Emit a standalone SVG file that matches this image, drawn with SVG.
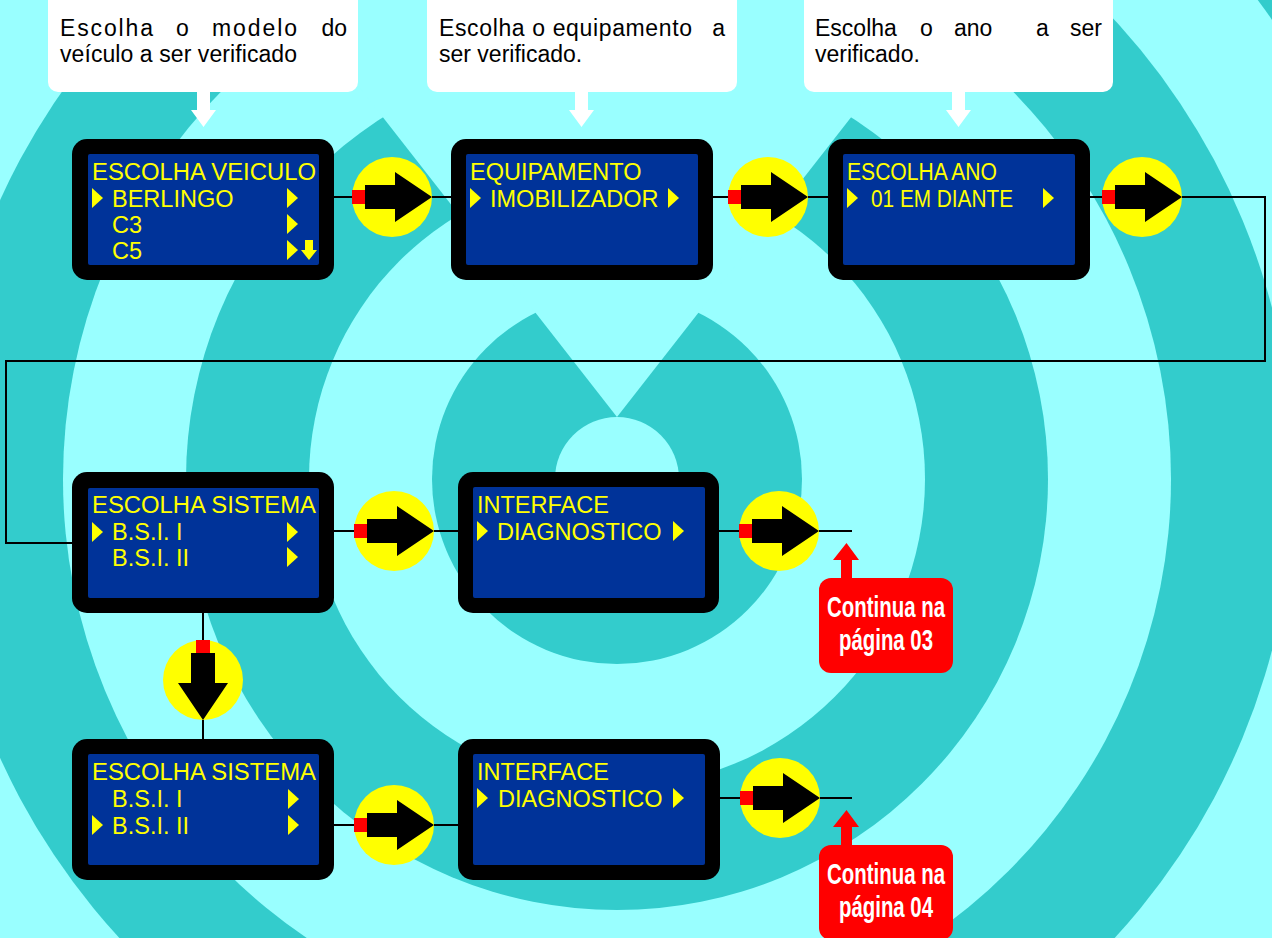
<svg xmlns="http://www.w3.org/2000/svg" xmlns:xlink="http://www.w3.org/1999/xlink" width="1272" height="938" viewBox="0 0 1272 938">
<style>
.bgl{fill:#99FFFF}
.bgd{fill:#33CCCC}
.call{fill:#FFFFFF}
.ctext{font-family:"Liberation Sans",Arial,sans-serif;font-size:23px;fill:#000}
.outer{fill:#000}
.inner{fill:#003399}
.lcd{font-family:"Liberation Sans",Arial,sans-serif;font-size:23.5px;fill:#FFFF00}
.tri{fill:#FFFF00}
.conn{fill:none;stroke:#000;stroke-width:2}
.red{fill:#FF0000}
.rtext{font-family:"Liberation Sans Narrow","Liberation Sans",Arial,sans-serif;font-size:30px;font-weight:bold;fill:#FFFFFF}
</style>
<defs>
<g id="harrow">
<circle r="40" fill="#FFFF00"/>
<rect x="-40" y="-7" width="14" height="14" fill="#FF0000"/>
<polygon points="-27,-12 3,-12 3,-25 40,0 3,25 3,12 -27,12" fill="#000"/>
</g>
<polygon id="tr" points="0,0 11,10 0,20"/>
</defs>

<g id="background">
<rect class="bgl" x="0" y="0" width="1272" height="938"/>
<circle class="bgd" cx="617" cy="479" r="923"/>
<circle class="bgl" cx="617" cy="479" r="800"/>
<circle class="bgd" cx="617" cy="479" r="677"/>
<circle class="bgl" cx="617" cy="479" r="554"/>
<circle class="bgd" cx="617" cy="479" r="431"/>
<circle class="bgl" cx="617" cy="479" r="308"/>
<circle class="bgd" cx="617" cy="479" r="185"/>
<circle class="bgl" cx="617" cy="479" r="62"/>
<polygon class="bgl" points="617,417 207,-108 1027,-108"/>
</g>

<g id="connectors">
<polyline class="conn" points="334,197 352,197"/>
<polyline class="conn" points="432,197 451,197"/>
<polyline class="conn" points="713,197 729,197"/>
<polyline class="conn" points="808,197 828,197"/>
<polyline class="conn" points="1090,197 1102,197"/>
<polyline class="conn" points="1182,197 1265,197 1265,361 6,361 6,543 72,543"/>
<polyline class="conn" points="334,531 354,531"/>
<polyline class="conn" points="434,531 458,531"/>
<polyline class="conn" points="719,531 739,531"/>
<polyline class="conn" points="819,531 852,531"/>
<polyline class="conn" points="203,613 203,739"/>
<polyline class="conn" points="334,825 354,825"/>
<polyline class="conn" points="434,825 458,825"/>
<polyline class="conn" points="720,798 740,798"/>
<polyline class="conn" points="820,798 852,798"/>
<use xlink:href="#harrow" href="#harrow" transform="translate(392,197)"/>
<use xlink:href="#harrow" href="#harrow" transform="translate(768,197)"/>
<use xlink:href="#harrow" href="#harrow" transform="translate(1142,197)"/>
<use xlink:href="#harrow" href="#harrow" transform="translate(394,531)"/>
<use xlink:href="#harrow" href="#harrow" transform="translate(779,531)"/>
<use xlink:href="#harrow" href="#harrow" transform="translate(394,825)"/>
<use xlink:href="#harrow" href="#harrow" transform="translate(780,798)"/>
<use xlink:href="#harrow" href="#harrow" transform="translate(203,680) rotate(90)"/>
</g>

<g id="callout1">
<rect class="call" x="48" y="-20" width="310" height="112" rx="10"/>
<text class="ctext" x="60" y="36" textLength="93" lengthAdjust="spacing">Escolha</text>
<text class="ctext" x="176" y="36">o</text>
<text class="ctext" x="212" y="36" textLength="85" lengthAdjust="spacing">modelo</text>
<text class="ctext" x="347" y="36" text-anchor="end">do</text>
<text class="ctext" x="60" y="62" textLength="237" lengthAdjust="spacing">veículo a ser verificado</text>
<polygon class="call" points="197,92 210,92 210,110 216,110 203.5,127 191,110 197,110"/>
</g>

<g id="callout2">
<rect class="call" x="427" y="-20" width="310" height="112" rx="10"/>
<text class="ctext" x="439" y="36" textLength="253" lengthAdjust="spacing">Escolha o equipamento</text>
<text class="ctext" x="725" y="36" text-anchor="end">a</text>
<text class="ctext" x="439" y="62">ser verificado.</text>
<polygon class="call" points="575,92 588,92 588,110 594,110 581.5,127 569,110 575,110"/>
</g>

<g id="callout3">
<rect class="call" x="804" y="-20" width="309" height="112" rx="10"/>
<text class="ctext" x="815" y="36">Escolha</text>
<text class="ctext" x="920" y="36">o</text>
<text class="ctext" x="954" y="36">ano</text>
<text class="ctext" x="1036" y="36">a</text>
<text class="ctext" x="1102" y="36" text-anchor="end">ser</text>
<text class="ctext" x="815" y="62">verificado.</text>
<polygon class="call" points="952,92 965,92 965,110 971,110 958.5,127 946,110 952,110"/>
</g>

<g id="screen1">
<rect class="outer" x="72" y="139" width="262" height="141" rx="15"/>
<rect class="inner" x="88" y="154" width="231" height="111" rx="2"/>
<text class="lcd" x="92" y="180" textLength="224" lengthAdjust="spacingAndGlyphs">ESCOLHA VEICULO</text>
<use class="tri" xlink:href="#tr" href="#tr" x="92" y="188"/>
<text class="lcd" x="112" y="207">BERLINGO</text>
<use class="tri" xlink:href="#tr" href="#tr" x="287" y="188"/>
<text class="lcd" x="112" y="233">C3</text>
<use class="tri" xlink:href="#tr" href="#tr" x="287" y="214"/>
<text class="lcd" x="112" y="259">C5</text>
<use class="tri" xlink:href="#tr" href="#tr" x="287" y="240"/>
<polygon class="tri" points="305,240 313,240 313,250 317,250 309,260 301,250 305,250"/>
</g>

<g id="screen2">
<rect class="outer" x="451" y="139" width="262" height="141" rx="15"/>
<rect class="inner" x="466" y="154" width="232" height="111" rx="2"/>
<text class="lcd" x="470" y="180">EQUIPAMENTO</text>
<use class="tri" xlink:href="#tr" href="#tr" x="470" y="188"/>
<text class="lcd" x="490" y="207">IMOBILIZADOR</text>
<use class="tri" xlink:href="#tr" href="#tr" x="668" y="188"/>
</g>

<g id="screen3">
<rect class="outer" x="828" y="139" width="262" height="141" rx="15"/>
<rect class="inner" x="843" y="154" width="232" height="111" rx="2"/>
<text class="lcd" x="847" y="180" textLength="150" lengthAdjust="spacingAndGlyphs">ESCOLHA ANO</text>
<use class="tri" xlink:href="#tr" href="#tr" x="847" y="188"/>
<text class="lcd" x="871" y="207" textLength="142" lengthAdjust="spacingAndGlyphs">01 EM DIANTE</text>
<use class="tri" xlink:href="#tr" href="#tr" x="1043" y="188"/>
</g>

<g id="screen4">
<rect class="outer" x="72" y="472" width="262" height="141" rx="15"/>
<rect class="inner" x="88" y="488" width="231" height="110" rx="2"/>
<text class="lcd" x="92" y="513" textLength="224" lengthAdjust="spacingAndGlyphs">ESCOLHA SISTEMA</text>
<use class="tri" xlink:href="#tr" href="#tr" x="92" y="522"/>
<text class="lcd" x="112" y="540">B.S.I. I</text>
<use class="tri" xlink:href="#tr" href="#tr" x="287" y="522"/>
<text class="lcd" x="112" y="566">B.S.I. II</text>
<use class="tri" xlink:href="#tr" href="#tr" x="287" y="547"/>
</g>

<g id="screen5">
<rect class="outer" x="458" y="472" width="261" height="141" rx="15"/>
<rect class="inner" x="473" y="487" width="232" height="111" rx="2"/>
<text class="lcd" x="477" y="513">INTERFACE</text>
<use class="tri" xlink:href="#tr" href="#tr" x="477" y="521"/>
<text class="lcd" x="497" y="540">DIAGNOSTICO</text>
<use class="tri" xlink:href="#tr" href="#tr" x="673" y="521"/>
</g>

<g id="screen6">
<rect class="outer" x="72" y="739" width="262" height="141" rx="15"/>
<rect class="inner" x="88" y="754" width="231" height="111" rx="2"/>
<text class="lcd" x="92" y="780" textLength="224" lengthAdjust="spacingAndGlyphs">ESCOLHA SISTEMA</text>
<text class="lcd" x="112" y="807">B.S.I. I</text>
<use class="tri" xlink:href="#tr" href="#tr" x="288" y="789"/>
<use class="tri" xlink:href="#tr" href="#tr" x="92" y="815"/>
<text class="lcd" x="112" y="834">B.S.I. II</text>
<use class="tri" xlink:href="#tr" href="#tr" x="288" y="815"/>
</g>

<g id="screen7">
<rect class="outer" x="458" y="739" width="262" height="141" rx="15"/>
<rect class="inner" x="473" y="754" width="232" height="111" rx="2"/>
<text class="lcd" x="477" y="780">INTERFACE</text>
<use class="tri" xlink:href="#tr" href="#tr" x="477" y="788"/>
<text class="lcd" x="498" y="807">DIAGNOSTICO</text>
<use class="tri" xlink:href="#tr" href="#tr" x="673" y="788"/>
</g>

<g id="continue1">
<polygon class="red" points="841,578 852,578 852,560 859,560 846.5,543 833,560 841,560"/>
<rect class="red" x="819" y="578" width="134" height="95" rx="12"/>
<text class="rtext" x="827" y="617" textLength="118" lengthAdjust="spacingAndGlyphs">Continua na</text>
<text class="rtext" x="839" y="650" textLength="94" lengthAdjust="spacingAndGlyphs">página 03</text>
</g>

<g id="continue2">
<polygon class="red" points="841,845 852,845 852,827 859,827 846.5,810 833,827 841,827"/>
<rect class="red" x="819" y="845" width="134" height="95" rx="12"/>
<text class="rtext" x="827" y="884" textLength="118" lengthAdjust="spacingAndGlyphs">Continua na</text>
<text class="rtext" x="839" y="917" textLength="94" lengthAdjust="spacingAndGlyphs">página 04</text>
</g>
</svg>
